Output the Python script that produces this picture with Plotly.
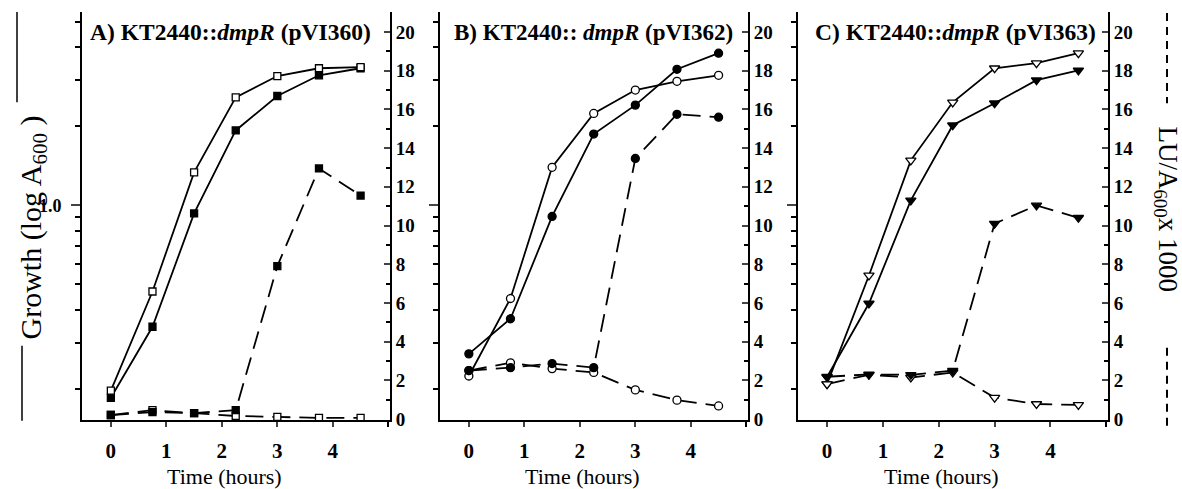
import plotly.graph_objects as go

# ---------------- data ----------------
hours = [0, 0.75, 1.5, 2.25, 3, 3.75, 4.5]
x_tick_vals = [0, 1, 2, 3, 4]
x_tick_text = ["0", "1", "2", "3", "4"]
x_minor_vals = [5]
lux_tick_vals = [0, 2, 4, 6, 8, 10, 12, 14, 16, 18, 20]
log_major_vals = [1.0]
log_minor_vals = [0.2, 0.3, 0.4, 0.5, 0.6, 0.7, 0.8, 0.9, 2, 3, 4, 5]

panel_titles = ["A) KT2440::<i>dmpR</i> (pVI360)",
                "B) KT2440:: <i>dmpR</i> (pVI362)",
                "C) KT2440::<i>dmpR</i> (pVI363)"]

# Panel A (pVI360) - squares
a_growth_open = [0.197, 0.470, 1.336, 2.58, 3.11, 3.33, 3.36]
a_growth_filled = [0.185, 0.345, 0.932, 1.93, 2.61, 3.13, 3.33]
a_lux_open = [0.2, 0.45, 0.3, 0.15, 0.1, 0.05, 0.05]
a_lux_filled = [0.2, 0.35, 0.3, 0.45, 7.9, 12.95, 11.55]

# Panel B (pVI362) - circles
b_growth_open = [0.224, 0.442, 1.397, 2.24, 2.75, 2.97, 3.13]
b_growth_filled = [0.272, 0.370, 0.908, 1.87, 2.41, 3.30, 3.80]
b_lux_open = [2.5, 2.9, 2.6, 2.4, 1.5, 0.97, 0.67]
b_lux_filled = [2.5, 2.65, 2.86, 2.65, 13.47, 15.75, 15.6]

# Panel C (pVI363) - down triangles
c_growth_open = [0.209, 0.541, 1.485, 2.47, 3.33, 3.48, 3.80]
c_growth_filled = [0.222, 0.423, 1.045, 2.02, 2.45, 3.00, 3.27]
c_lux_open = [1.8, 2.28, 2.14, 2.4, 1.1, 0.77, 0.72]
c_lux_filled = [2.18, 2.3, 2.28, 2.49, 10.1, 11.04, 10.4]

panels = [
    ("square", 7, a_growth_open, a_growth_filled, a_lux_open, a_lux_filled),
    ("circle", 8, b_growth_open, b_growth_filled, b_lux_open, b_lux_filled),
    ("triangle-down", 9, c_growth_open, c_growth_filled, c_lux_open, c_lux_filled),
]

# ---------------- layout geometry ----------------
REF_W, REF_H = 1182, 489
W, H = 1182, 500


def px(x):
    return x / REF_W


def py(y):
    return 1 - y / REF_H


x_domains = [[px(82), px(390)], [px(440), px(748)], [px(798), px(1108)]]
y_domain = [py(419), py(12)]
title_x_px = [88, 452, 813]
title_sizes = [23.5, 23, 23.5]
FONT = "Liberation Serif"

fig = go.Figure()
layout = dict(
    width=W, height=H,
    margin=dict(l=0, r=0, t=0, b=0),
    paper_bgcolor="white", plot_bgcolor="white",
    showlegend=False,
    font=dict(family=FONT, color="black", size=18),
)

annotations = []
for i, (sym, msize, g_open, g_filled, l_open, l_filled) in enumerate(panels):
    n = i + 1
    xname = "x" if n == 1 else f"x{n}"
    ylog = "y" if n == 1 else f"y{2 * n - 1}"
    ylin = f"y{2 * n}"
    xkey = "xaxis" if n == 1 else f"xaxis{n}"
    ylogkey = "yaxis" if n == 1 else f"yaxis{2 * n - 1}"
    ylinkey = f"yaxis{2 * n}"

    def add(y, yax, filled, dash):
        fig.add_trace(go.Scatter(
            x=hours, y=y, xaxis=xname, yaxis=yax, mode="lines+markers",
            line=dict(color="black", width=1.8, dash=dash),
            marker=dict(symbol=sym, size=msize,
                        color="black" if filled else "white",
                        line=dict(color="black", width=1.3)),
            cliponaxis=False,
        ))

    add(l_open, ylin, False, "18px,9px")
    add(l_filled, ylin, True, "18px,9px")
    add(g_filled, ylog, True, "solid")
    add(g_open, ylog, False, "solid")

    layout[xkey] = dict(
        domain=x_domains[i], range=[-0.52, 5.03], anchor=ylog,
        tickmode="array", tickvals=x_tick_vals, ticktext=x_tick_text,
        ticks="outside", ticklen=5, tickwidth=1.5, ticklabelstandoff=6,
        minor=dict(tickmode="array", tickvals=x_minor_vals, ticks="outside",
                   ticklen=5, tickwidth=1.5, tickcolor="black"),
        showline=True, linewidth=2, linecolor="black",
        showgrid=False, zeroline=False,
        tickfont=dict(family=FONT, size=21, weight="bold"),
    )
    ylog_axis = dict(
        domain=y_domain, type="log", range=[-0.8168, 0.7366], anchor=xname,
        tickmode="array", tickvals=log_major_vals,
        showticklabels=(n == 1),
        ticks="outside", ticklen=9, tickwidth=1.5, ticklabelstandoff=6,
        minor=dict(tickmode="array", tickvals=log_minor_vals, ticks="outside",
                   ticklen=5, tickwidth=1.5, tickcolor="black"),
        showline=True, linewidth=2, linecolor="black",
        showgrid=False, zeroline=False,
        tickfont=dict(family=FONT, size=18, weight="bold"),
    )
    if n == 1:
        ylog_axis["ticktext"] = ["1.0"]
    layout[ylogkey] = ylog_axis
    layout[ylinkey] = dict(
        overlaying=ylog, side="right", anchor=xname,
        range=[-0.05, 21.04],
        tickmode="array", tickvals=lux_tick_vals,
        ticks="inside", ticklen=6, tickwidth=1.5,
        minor=dict(dtick=1, ticks="inside", ticklen=4, tickwidth=1.5,
                   tickcolor="black"),
        showline=True, linewidth=2, linecolor="black",
        showgrid=False, zeroline=False,
        tickfont=dict(family=FONT, size=19, weight="bold"),
    )

    annotations.append(dict(
        text=panel_titles[i], xref="paper", yref="paper",
        x=px(title_x_px[i]), y=py(32), xanchor="left", yanchor="middle",
        showarrow=False, font=dict(family=FONT, size=title_sizes[i], weight="bold"),
    ))
    annotations.append(dict(
        text="Time (hours)", xref=xname, yref="paper",
        x=2.05, y=py(476), xanchor="center", yanchor="middle",
        showarrow=False, font=dict(family=FONT, size=22),
    ))

annotations.append(dict(
    text="Growth (log A<sub>600</sub> )", xref="paper", yref="paper",
    x=px(33), y=py(227), xanchor="center", yanchor="middle",
    textangle=-90, showarrow=False, font=dict(family=FONT, size=30),
))
annotations.append(dict(
    text="LU/A<sub>600</sub>x 1000", xref="paper", yref="paper",
    x=px(1166), y=py(209), xanchor="center", yanchor="middle",
    textangle=90, showarrow=False, font=dict(family=FONT, size=27),
))
layout["annotations"] = annotations

# side key lines (solid = growth, dashed = luciferase)
shapes = []
for (x0, y0, y1) in [(17, 12, 102), (22, 345, 420)]:
    shapes.append(dict(type="line", xref="paper", yref="paper",
                       x0=px(x0), x1=px(x0), y0=py(y0), y1=py(y1),
                       line=dict(color="black", width=1.5)))
for (y0, y1) in [(13, 103), (347, 425)]:
    shapes.append(dict(type="line", xref="paper", yref="paper",
                       x0=px(1167), x1=px(1167), y0=py(y0), y1=py(y1),
                       line=dict(color="black", width=2, dash="8px,6px")))
layout["shapes"] = shapes

fig.update_layout(**layout)
fig.write_html("out.html",
               config={"displayModeBar": False},
               post_script="document.body.style.margin='0';"
                           "document.body.style.overflow='hidden';")
